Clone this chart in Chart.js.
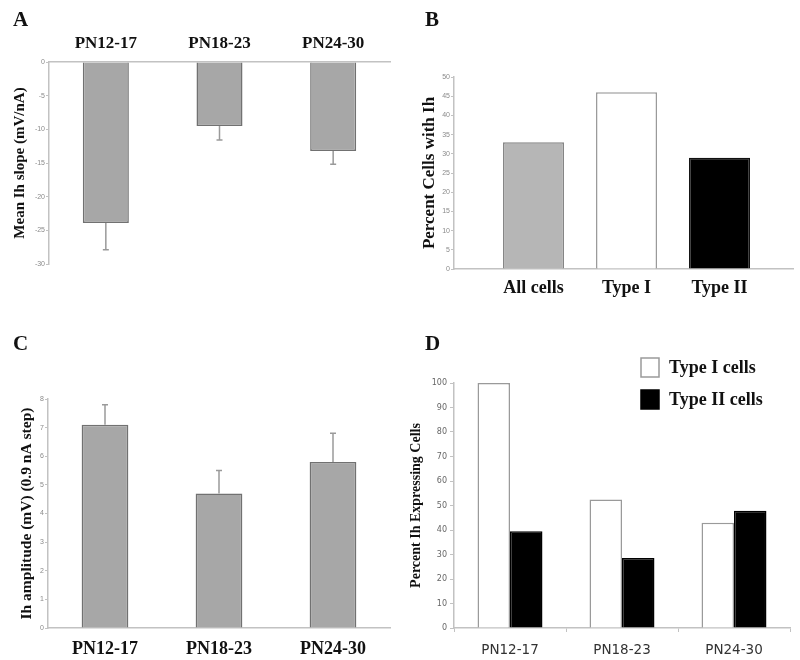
<!DOCTYPE html>
<html><head><meta charset="utf-8">
<script src="https://cdn.jsdelivr.net/npm/chart.js@4.4.0/dist/chart.umd.min.js"></script>
<style>
html,body{margin:0;padding:0;background:#fff;}
#fig{position:relative;width:800px;height:660px;overflow:hidden;background:#fff;}
canvas{position:absolute;}
.lt{position:absolute;font:bold 21px "Liberation Serif",serif;line-height:21px;color:#111;}
</style></head><body>
<div id="fig">
<canvas id="cA" width="400" height="330" style="left:0;top:0"></canvas>
<canvas id="cB" width="400" height="330" style="left:400px;top:0"></canvas>
<canvas id="cC" width="400" height="330" style="left:0;top:330px"></canvas>
<canvas id="cD" width="400" height="330" style="left:400px;top:330px"></canvas>
<div class="lt" style="left:13px;top:9px">A</div>
<div class="lt" style="left:425px;top:9px">B</div>
<div class="lt" style="left:13px;top:333px">C</div>
<div class="lt" style="left:425px;top:333px">D</div>
</div>
<script>
// ---- data ----
const periods = ['PN12-17', 'PN18-23', 'PN24-30'];
const slopeMean = [-23.9, -9.5, -13.2];
const slopeErr = [4.0, 2.1, 2.0];
const groupsB = ['All cells', 'Type I', 'Type II'];
const groupPosB = [1, 2, 3];
const pctWithIh = [33, 46, 29];
const ampMean = [7.1, 4.7, 5.8];
const ampErr = [0.7, 0.8, 1.0];
const seriesD = ['Type I cells', 'Type II cells'];
const typeIPct = [100, 52.4, 43];
const typeIIPct = [39.5, 28.6, 47.9];

Chart.defaults.font.family = '"Liberation Sans", Arial, sans-serif';
Chart.defaults.animation = false;

const AXIS = '#c2c2c2';
const serifBold = (size) => ({family: '"Liberation Serif", "Times New Roman", serif', size: size, weight: 'bold'});

const errPlugin = {
  id: 'errbars',
  afterDatasetsDraw(chart) {
    const ctx = chart.ctx, ys = chart.scales.y;
    chart.data.datasets.forEach((ds, di) => {
      if (!ds.errorBars) return;
      const meta = chart.getDatasetMeta(di);
      meta.data.forEach((el, i) => {
        const v = ds.data[i], e = ds.errorBars[i];
        const y1 = ys.getPixelForValue(v + Math.sign(v) * e);
        ctx.save();
        ctx.strokeStyle = '#9a9a9a'; ctx.lineWidth = 1.5;
        ctx.beginPath();
        ctx.moveTo(el.x, el.y); ctx.lineTo(el.x, y1);
        ctx.moveTo(el.x - 3, y1); ctx.lineTo(el.x + 3, y1);
        ctx.stroke();
        ctx.restore();
      });
    });
  }
};

const legendD = {
  id: 'legD',
  afterDraw(chart) {
    const ctx = chart.ctx;
    const x0 = chart.chartArea.right - 149, y0 = 28, gap = 32;
    chart.data.datasets.forEach((ds, i) => {
      const y = y0 + i * gap;
      ctx.save();
      ctx.fillStyle = ds.backgroundColor; ctx.fillRect(x0, y, 18, 19);
      ctx.strokeStyle = ds.borderColor; ctx.lineWidth = 1.5; ctx.strokeRect(x0, y, 18, 19);
      ctx.fillStyle = '#111'; ctx.font = 'bold 18px "Liberation Serif"';
      ctx.textBaseline = 'middle'; ctx.textAlign = 'left';
      ctx.fillText(ds.label, x0 + 28, y + 10);
      ctx.restore();
    });
  }
};

function smallY(min, max, step, title, titleSize, titlePad, width) {
  return {
    min: min, max: max,
    ticks: {stepSize: step, padding: 1, font: {size: 7}, color: '#8a8a8a'},
    grid: {drawOnChartArea: false, tickLength: 3, color: AXIS, lineWidth: 1},
    border: {color: AXIS, width: 1.5},
    title: {display: true, text: title, font: serifBold(titleSize), color: '#111', padding: {top: titlePad, bottom: 0}},
    afterFit: s => { s.width = width; }
  };
}
const basePlugins = {legend: {display: false}, tooltip: {enabled: false}};

// ---- A ----
new Chart(document.getElementById('cA'), {
  type: 'bar',
  data: {labels: periods, datasets: [{data: slopeMean, errorBars: slopeErr,
    backgroundColor: '#a7a7a7', borderColor: '#717171', borderWidth: 1.5,
    barPercentage: 0.405, categoryPercentage: 1}]},
  options: {
    responsive: false,
    layout: {padding: {left: 0, top: 0, right: 10, bottom: 66}},
    plugins: basePlugins,
    scales: {
      x: {position: 'top', grid: {display: false, drawTicks: false},
        border: {color: AXIS, width: 1.5},
        ticks: {padding: 8, font: serifBold(17), color: '#111'},
        afterFit: s => { s.height = 62; }},
      y: smallY(-30, 0, 5, 'Mean Ih slope (mV/nA)', 15, 11, 49)
    }
  },
  plugins: [errPlugin]
});

// ---- B ----
new Chart(document.getElementById('cB'), {
  type: 'bar',
  data: {datasets: [{data: groupPosB.map((x, i) => ({x: x, y: pctWithIh[i]})),
    backgroundColor: ['#b6b6b6', '#ffffff', '#000000'],
    borderColor: ['#858585', '#9a9a9a', '#111111'], borderWidth: 1.5,
    barPercentage: 0.656, categoryPercentage: 1}]},
  options: {
    responsive: false,
    layout: {padding: {left: 0, top: 77, right: 7, bottom: 0}},
    plugins: basePlugins,
    scales: {
      x: {type: 'linear', min: 0.145, max: 3.79, bounds: 'data', offset: false,
        grid: {display: false, drawTicks: false, offset: false},
        border: {color: AXIS, width: 1.5},
        afterBuildTicks: s => { s.ticks = groupPosB.map(v => ({value: v})); },
        ticks: {autoSkip: false, padding: 9,
          font: serifBold(18), color: '#111',
          callback: v => groupsB[groupPosB.indexOf(v)] || ''},
        afterFit: s => { s.height = 61; }},
      y: smallY(0, 50, 5, 'Percent Cells with Ih', 17, 19, 54)
    }
  }
});

// ---- C ----
new Chart(document.getElementById('cC'), {
  type: 'bar',
  data: {labels: periods, datasets: [{data: ampMean, errorBars: ampErr,
    backgroundColor: '#a7a7a7', borderColor: '#717171', borderWidth: 1.5,
    barPercentage: 0.41, categoryPercentage: 1}]},
  options: {
    responsive: false,
    layout: {padding: {left: 0, top: 69, right: 10, bottom: 0}},
    plugins: basePlugins,
    scales: {
      x: {grid: {display: false, drawTicks: false},
        border: {color: AXIS, width: 1.5},
        ticks: {padding: 11, font: serifBold(18), color: '#111'},
        afterFit: s => { s.height = 32; }},
      y: smallY(0, 8, 1, 'Ih amplitude (mV) (0.9 nA step)', 15.5, 18, 48)
    }
  },
  plugins: [errPlugin]
});

// ---- D ----
new Chart(document.getElementById('cD'), {
  type: 'bar',
  data: {labels: periods, datasets: [
    {label: seriesD[0], data: typeIPct, backgroundColor: '#ffffff', borderColor: '#9a9a9a', borderWidth: 1.5,
      barPercentage: 1, categoryPercentage: 0.58},
    {label: seriesD[1], data: typeIIPct, backgroundColor: '#000000', borderColor: '#000000', borderWidth: 1.5,
      barPercentage: 1, categoryPercentage: 0.58}
  ]},
  options: {
    responsive: false,
    layout: {padding: {left: 0, top: 53, right: 10, bottom: 0}},
    plugins: basePlugins,
    scales: {
      x: {grid: {drawOnChartArea: false, tickLength: 4, color: AXIS},
        border: {color: AXIS, width: 1.5},
        ticks: {padding: 10, font: {family: '"DejaVu Sans", Verdana, sans-serif', size: 13.5}, color: '#333'},
        afterFit: s => { s.height = 32; }},
      y: {min: 0, max: 100,
        ticks: {stepSize: 10, padding: 3, font: {family: '"DejaVu Sans", Verdana, sans-serif', size: 8}, color: '#666'},
        grid: {drawOnChartArea: false, tickLength: 4, color: AXIS},
        border: {color: AXIS, width: 1.5},
        title: {display: true, text: 'Percent Ih Expressing Cells', font: serifBold(14), color: '#111', padding: {top: 8, bottom: 0}},
        afterFit: s => { s.width = 54; }}
    }
  },
  plugins: [legendD]
});
</script>
</body></html>
